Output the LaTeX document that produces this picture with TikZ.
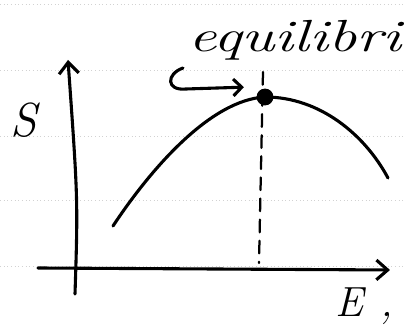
\documentclass[tikz,border=0pt]{standalone}
\usetikzlibrary{arrows.meta,positioning}
\begin{document}
\begin{tikzpicture}[x=0.025cm,y=-0.025cm,>={Straight Barb[length=8pt,width=14pt]},
  pen/.style={line width=2.2pt,line cap=round,line join=round},
  ruled/.style={gray!35,dotted,line width=0.6pt},
  hand/.style={inner sep=0pt,font=\itshape}]
  \useasboundingbox (0,0) rectangle (404,326);
  % faint lines of the paper
  \foreach \yy in {4,70,136,200,266}
    \draw[ruled] (0,\yy) -- (404,\yy);

  % axes
  \coordinate (ybot) at (75,294);
  \coordinate (ytop) at (68,60);
  \coordinate (xleft) at (38,268);
  \coordinate (xright) at (390,270);
  \draw[pen,->] (ybot) .. controls (78,200) .. (ytop);
  \draw[pen,->] (xleft) -- (xright);

  % the curve and its top
  \node (peak) at (265,97) [circle, fill=black, minimum size=12pt, inner sep=0pt] {};
  \draw[pen] (113,226) .. controls (150,170) and (210,100) .. (peak.center)
             .. controls (320,97) and (365,135) .. (388,178);
  \coordinate (dtop) at (263,72);
  \coordinate (dbot) at (259,263);
  \draw[pen,line width=1.6pt,dash pattern=on 9pt off 6pt] (dtop) -- (dbot);

  % labels
  \node (slab) at (24,120) [hand] {\fontsize{34}{34}\selectfont S};
  \node (elab) at (349,302) [hand] {\fontsize{30}{30}\selectfont E};
  \node (comma) [anchor=base west, hand] at ([xshift=12pt]elab.base east) {\fontsize{30}{30}\selectfont ,};
  \node (eq) at (295,40) [hand, xscale=1.4] {\fontsize{32}{32}\selectfont equilibri};

  % pointer to the top
  \coordinate (hook) at (183,68);
  \draw[pen,->,>={Straight Barb[length=6pt,width=12pt]}] (hook) .. controls (166,74) and (166,91) .. (186,89)
        -- ([shift={(-15pt,7pt)}]peak.center);
\end{tikzpicture}
\end{document}
